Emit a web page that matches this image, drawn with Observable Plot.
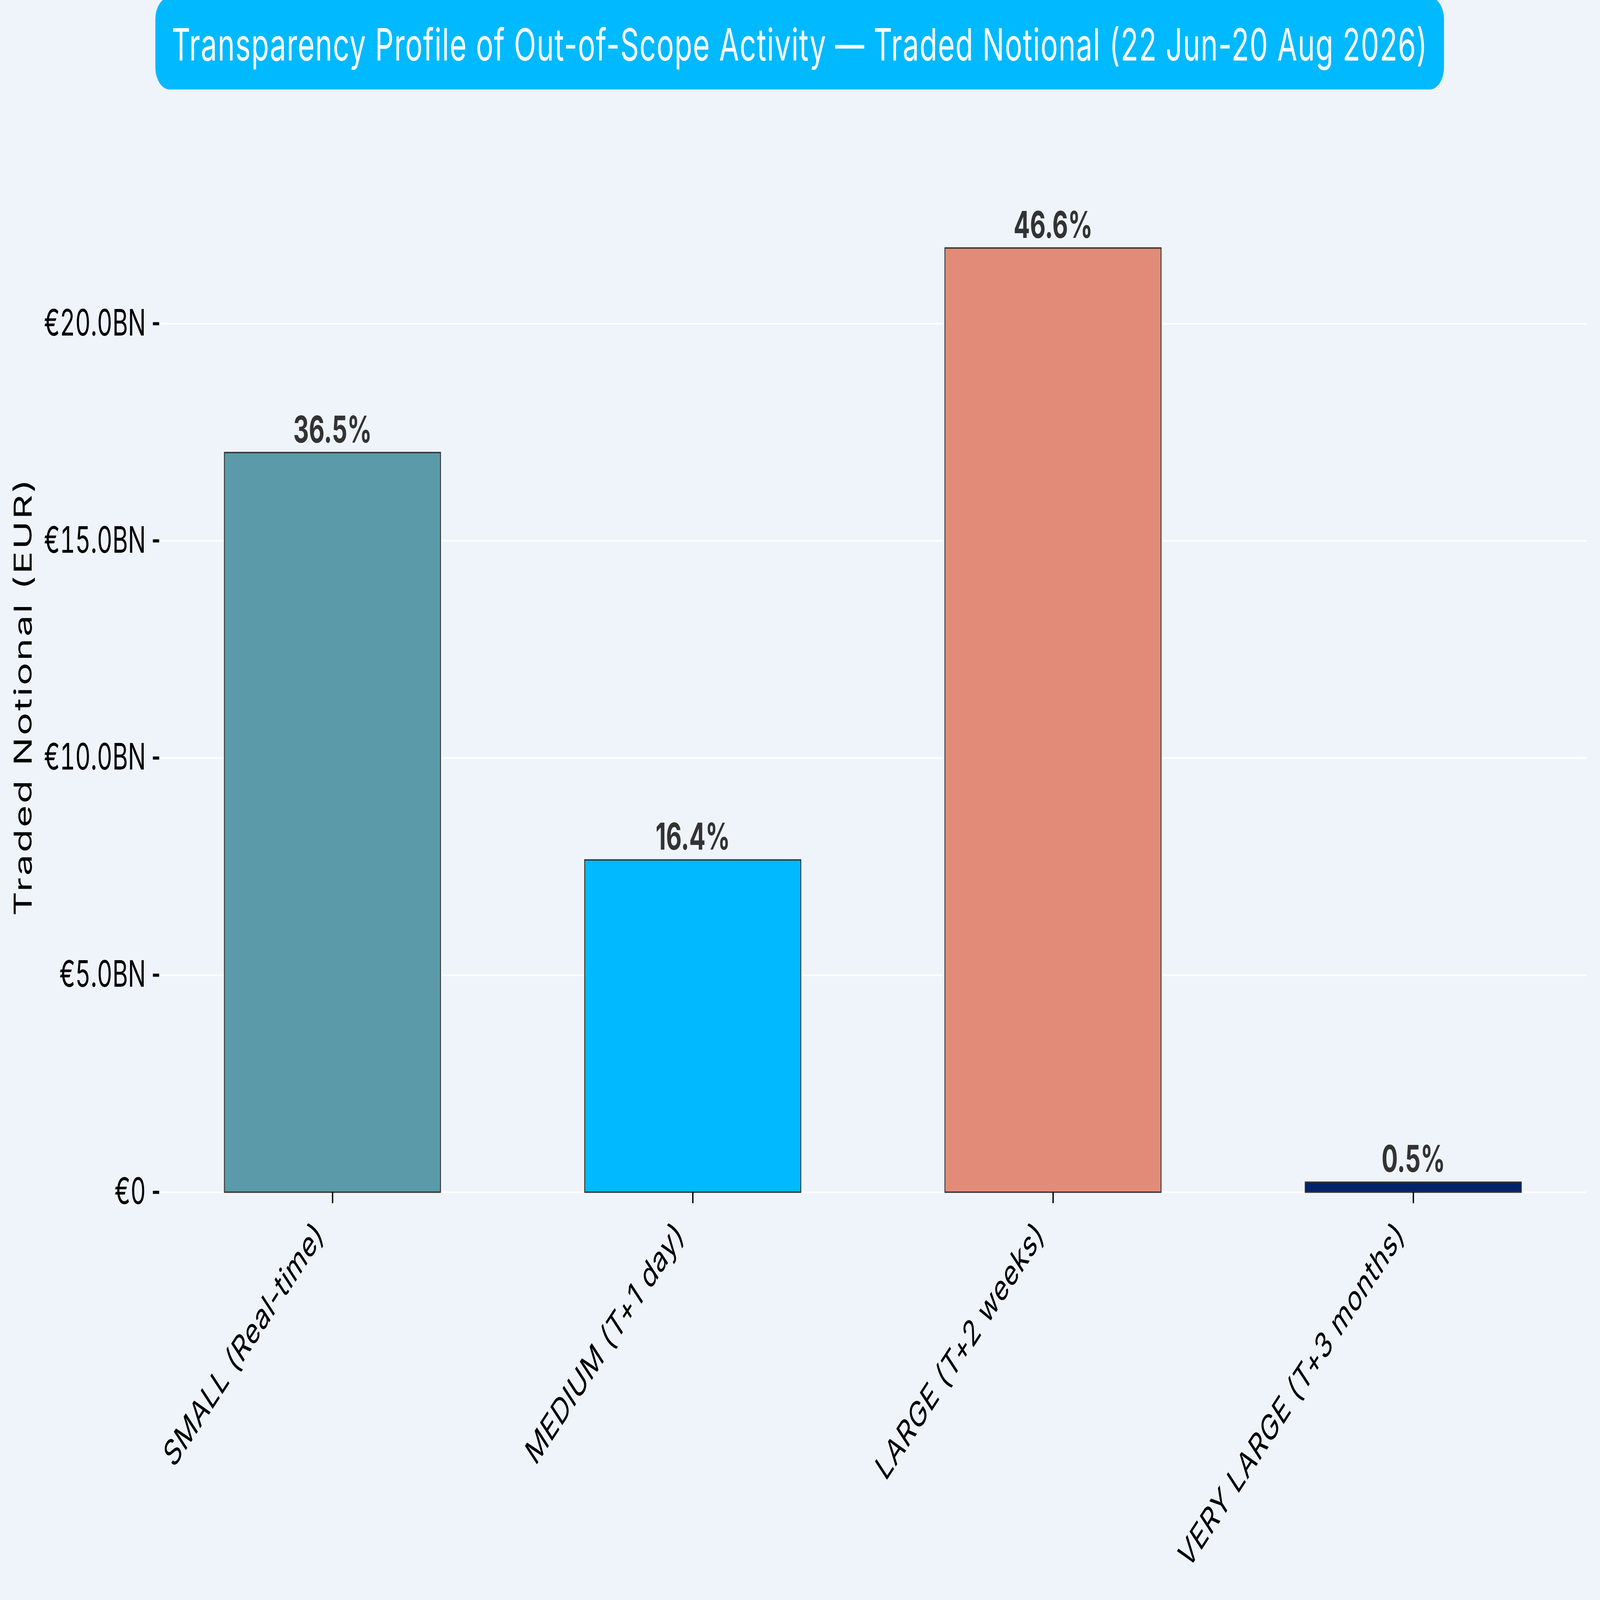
<!DOCTYPE html>
<html>
<head>
<meta charset="utf-8">
<script src="https://cdn.jsdelivr.net/npm/d3@7"></script>
<script src="https://cdn.jsdelivr.net/npm/@observablehq/plot@0.6"></script>
<style>
  html, body { margin: 0; padding: 0; background: #EFF4FA; overflow: hidden; }
  #page { position: absolute; left: 0; top: 0; width: 7137px; height: 4649px; background: #EFF4FA; overflow: hidden; transform-origin: 0 0; }
  #titleWrap { position: relative; width: 7137px; height: 300px; overflow: visible; }
  #titleBox {
    position: absolute; left: 693px; top: -8px; width: 5748px; height: 268px;
    background: #00B9FF; border-radius: 64px;
    display: flex; align-items: center; justify-content: center;
    color: #ffffff; font-family: Inter, "Noto Sans", sans-serif; font-weight: 400;
    white-space: nowrap; box-sizing: border-box; padding-top: 6px;
  }
  #chart svg { display: block; }
</style>
</head>
<body>
<div id="page">
  <div id="titleWrap"><div id="titleBox"></div></div>
  <div id="chart"></div>
</div>
<script>
const titleText = "Transparency Profile of Out-of-Scope Activity — Traded Notional (22 Jun-20 Aug 2026)";
const yAxisLabel = "Traded Notional (EUR)";
const categories = ["SMALL (Real-time)", "MEDIUM (T+1 day)", "LARGE (T+2 weeks)", "VERY LARGE (T+3 months)"];
const notionalBn = [17.03, 7.65, 21.74, 0.23];
const sharePct = [36.5, 16.4, 46.6, 0.5];
const barColors = ["#5B9AA9", "#00B9FF", "#E38B79", "#00256A"];
const yTicks = [0, 5, 10, 15, 20];
const yTickLabels = ["€0", "€5.0BN", "€10.0BN", "€15.0BN", "€20.0BN"];
const yMax = 22.83;

const FONT = "Inter, 'Noto Sans', sans-serif";
const ctx = document.createElement("canvas").getContext("2d");
function measure(txt, size, weight) {
  ctx.font = `${weight || 400} ${size}px Inter`;
  return ctx.measureText(txt).width;
}

// title: size to match cap height, letter-spacing to match width
const tb = document.getElementById("titleBox");
tb.textContent = titleText;
const titleFs = 129;
const tw = measure(titleText, titleFs);
tb.style.fontSize = titleFs + "px";
tb.style.letterSpacing = Math.max(-6, Math.min(8, (5600 - tw) / (titleText.length - 1))) + "px";

// x labels: cap height like the reference, spacing fitted to its length
const xfs = 104;
const xw = measure(categories[0], xfs);
const xSpacing = Math.max(-6, Math.min(6, (954 - xw) / (categories[0].length - 1)));

// y label spacing
const ylFs = 110;
const ylw = measure(yAxisLabel, ylFs);
const ylSpacing = Math.max(-4, Math.min(10, (1270 - ylw) / (yAxisLabel.length - 1)));

const data = categories.map((c, i) => ({cat: c, value: notionalBn[i], pct: sharePct[i]}));

const T = 300;
const chart = Plot.plot({
  width: 7137,
  height: 4649 - T,
  marginLeft: 710,
  marginRight: 60,
  marginTop: 583 - T,
  marginBottom: 1185,
  style: {background: "transparent", fontFamily: FONT, fontSize: "106px", color: "#000"},
  x: {domain: categories, paddingInner: 0.4, paddingOuter: 0.18, label: null},
  y: {domain: [0, yMax], label: null},
  color: {domain: categories, range: barColors},
  marks: [
    Plot.ruleY(yTicks, {stroke: "#ffffff", strokeWidth: 5}),
    Plot.barY(data, {x: "cat", y: "value", fill: "cat", stroke: "#333333", strokeWidth: 4}),
    Plot.text(data, {x: "cat", y: "value", text: d => d.pct.toFixed(1) + "%", lineAnchor: "bottom", dy: -30, fontWeight: 700, fill: "#333333", fontSize: 108}),
    Plot.axisY({ticks: yTicks, tickFormat: d => yTickLabels[yTicks.indexOf(d)], tickSize: 28, tickPadding: 32, strokeWidth: 9, label: null}),
    Plot.axisX({tickSize: 32, strokeWidth: 6, tickFormat: () => "", label: null}),
    Plot.text(data, {x: "cat", frameAnchor: "bottom", text: "cat", rotate: -45, textAnchor: "end", lineAnchor: "top", dx: -86, dy: 76, fill: "#000", fontSize: xfs}),
    Plot.text([yAxisLabel], {text: d => d, frameAnchor: "left", textAnchor: "middle", lineAnchor: "middle", rotate: -90, dx: -(710 - 105), fill: "#000", fontSize: ylFs})
  ]
});
d3.select(chart).selectAll("text").filter(function() { return this.textContent === yAxisLabel; }).style("letter-spacing", ylSpacing + "px");
d3.select(chart).selectAll("text").filter(function() { return categories.includes(this.textContent); }).style("letter-spacing", xSpacing + "px");
document.getElementById("chart").appendChild(chart);

// fit the 7137x4649 design into whatever viewport the page is given
function fit() {
  const sx = window.innerWidth / 7137, sy = window.innerHeight / 4649;
  document.getElementById("page").style.transform = `scale(${sx}, ${sy})`;
}
fit();
window.addEventListener("resize", fit);
</script>
</body>
</html>
